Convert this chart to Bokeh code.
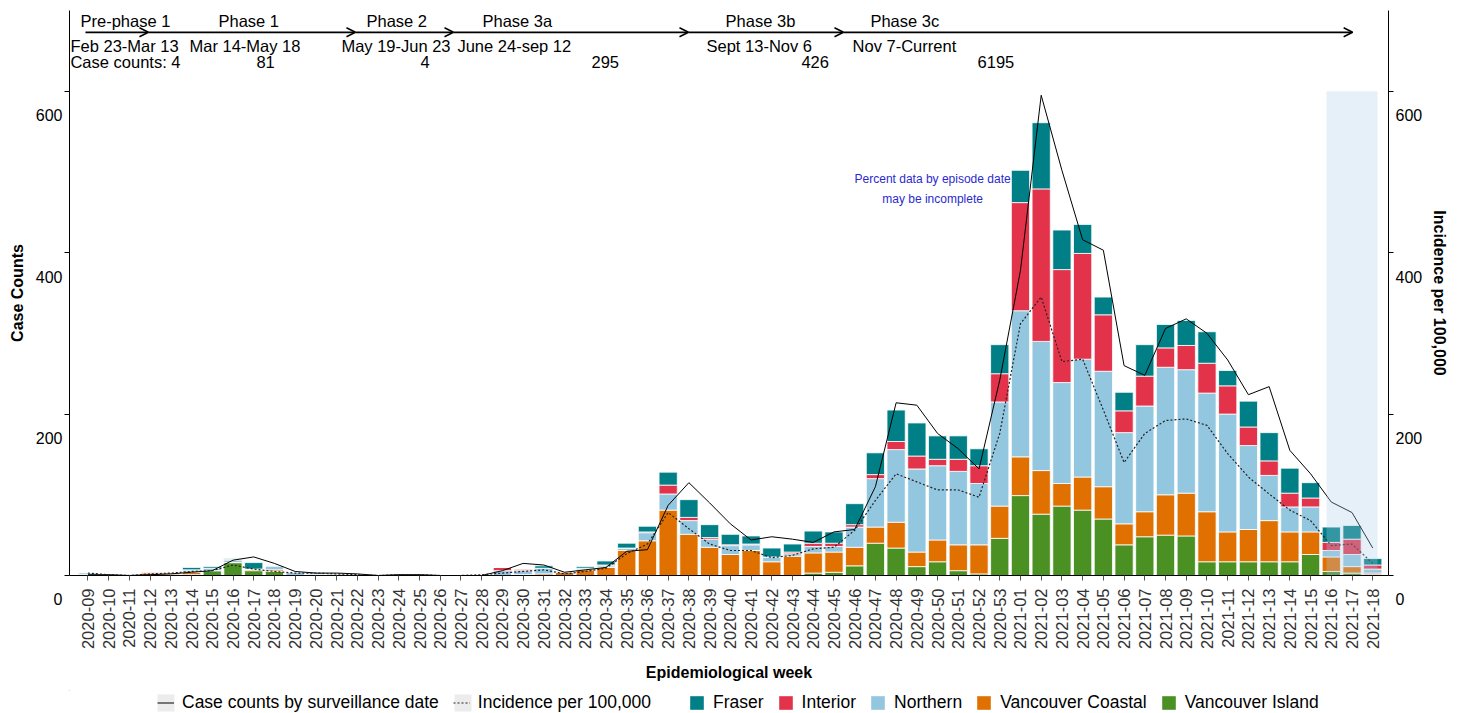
from math import pi
from bokeh.plotting import figure
from bokeh.layouts import column
from bokeh.models import (Range1d, LinearAxis, FixedTicker, Legend, LegendItem,
                          ColumnDataSource, Arrow, OpenHead)
from bokeh.core.properties import value
from bokeh.embed import file_html
from bokeh.resources import INLINE

weeks = ["2020-09", "2020-10", "2020-11", "2020-12", "2020-13", "2020-14", "2020-15", "2020-16",
         "2020-17", "2020-18", "2020-19", "2020-20", "2020-21", "2020-22", "2020-23", "2020-24",
         "2020-25", "2020-26", "2020-27", "2020-28", "2020-29", "2020-30", "2020-31", "2020-32",
         "2020-33", "2020-34", "2020-35", "2020-36", "2020-37", "2020-38", "2020-39", "2020-40",
         "2020-41", "2020-42", "2020-43", "2020-44", "2020-45", "2020-46", "2020-47", "2020-48",
         "2020-49", "2020-50", "2020-51", "2020-52", "2020-53", "2021-01", "2021-02", "2021-03",
         "2021-04", "2021-05", "2021-06", "2021-07", "2021-08", "2021-09", "2021-10", "2021-11",
         "2021-12", "2021-13", "2021-14", "2021-15", "2021-16", "2021-17", "2021-18"]

vancouver_island = [0, 0, 0, 0, 1, 1, 6, 16, 6, 5,
                    0, 0, 0, 0, 0, 0, 0, 0, 0, 0,
                    0, 0, 0, 0, 0, 0, 0, 0, 0, 0,
                    0, 0, 0, 0, 0, 3, 4, 12, 40, 34,
                    11, 17, 6, 2, 46, 99, 76, 86, 81, 70,
                    38, 48, 50, 49, 17, 17, 17, 17, 17, 26,
                    5, 3, 1]
vancouver_coastal = [0, 0, 0, 3, 2, 3, 0, 0, 2, 2,
                     0, 0, 1, 0, 0, 0, 0, 0, 0, 0,
                     0, 1, 2, 4, 7, 10, 31, 43, 81, 51,
                     35, 26, 31, 17, 24, 25, 25, 23, 20, 32,
                     18, 27, 32, 36, 40, 48, 54, 28, 41, 40,
                     26, 31, 50, 53, 62, 37, 40, 51, 37, 28,
                     18, 8, 2]
northern = [2, 0, 0, 1, 1, 3, 3, 3, 0, 5,
            4, 2, 2, 2, 0, 0, 0, 0, 0, 0,
            6, 5, 7, 0, 2, 2, 3, 10, 20, 17,
            10, 11, 7, 6, 3, 8, 7, 25, 60, 90,
            103, 92, 91, 76, 129, 181, 160, 125, 146, 143,
            113, 131, 158, 153, 147, 146, 104, 56, 31, 31,
            8, 15, 5]
interior = [0, 0, 0, 1, 0, 0, 0, 1, 0, 0,
            0, 0, 0, 0, 0, 0, 0, 0, 0, 0,
            4, 2, 0, 0, 0, 1, 0, 1, 11, 4,
            2, 1, 1, 0, 2, 4, 4, 3, 5, 10,
            16, 8, 15, 22, 35, 134, 189, 140, 131, 70,
            27, 37, 24, 30, 37, 35, 23, 18, 17, 11,
            10, 19, 5]
fraser = [1, 1, 0, 0, 0, 3, 2, 1, 8, 0,
          0, 1, 0, 0, 0, 1, 1, 0, 0, 0,
          0, 0, 3, 1, 2, 5, 6, 7, 16, 22,
          16, 13, 10, 11, 10, 15, 14, 26, 27, 39,
          41, 29, 29, 21, 36, 40, 82, 49, 36, 22,
          23, 39, 29, 31, 39, 19, 32, 35, 31, 19,
          19, 17, 8]
cases_surveillance = [1, 1, 0, 1, 2, 4, 6, 19, 23, 15,
                      5, 3, 3, 2, 0, 1, 1, 0, 0, 0,
                      6, 15, 13, 4, 7, 10, 30, 32, 87, 115,
                      90, 64, 44, 48, 45, 41, 54, 57, 110, 214,
                      211, 176, 157, 132, 242, 378, 595, 502, 416, 403,
                      260, 248, 306, 318, 300, 267, 224, 234, 155, 126,
                      91, 78, 34]
incidence = [3, 1, 0, 2, 3, 5, 6, 13, 8, 5,
             3, 3, 2, 1, 0, 1, 1, 0, 0, 1,
             3, 5, 7, 2, 5, 9, 27, 39, 78, 58,
             39, 31, 31, 22, 25, 33, 35, 56, 93, 126,
             116, 106, 106, 97, 176, 312, 345, 265, 268, 205,
             140, 176, 192, 194, 186, 151, 122, 101, 81, 68,
             37, 39, 15]

regions = ["Vancouver Island", "Vancouver Coastal", "Northern", "Interior", "Fraser"]
region_colors = ["#4a9023", "#e07000", "#93c6df", "#e3334b", "#007f86"]

y_ticks = [0, 200, 400, 600]

phase_names = ["Pre-phase 1", "Phase 1", "Phase 2", "Phase 3a", "Phase 3b", "Phase 3c"]
phase_dates = ["Feb 23-Mar 13", "Mar 14-May 18", "May 19-Jun 23", "June 24-sep 12",
               "Sept 13-Nov 6", "Nov 7-Current"]
phase_counts = ["Case counts: 4", "81", "4", "295", "426", "6195"]

FONT = "Liberation Sans"
n = len(weeks)
xs = list(range(n))

src = ColumnDataSource(dict(x=xs, cases=cases_surveillance, inc=incidence,
                            **{r: v for r, v in zip(regions, [vancouver_island, vancouver_coastal,
                                                              northern, interior, fraser])}))

p = figure(width=1461, height=690, output_backend="svg", toolbar_location=None,
           x_range=Range1d(-0.89, 62.76), y_range=Range1d(0, 700),
           min_border_left=69, min_border_right=73, min_border_top=10, min_border_bottom=115)
p.outline_line_color = None
p.xgrid.visible = False
p.ygrid.visible = False

bars = p.vbar_stack(regions, x="x", width=0.88, color=region_colors, source=src,
                    line_color="white", line_width=1, line_alpha=0.8)
l1 = p.line("x", "cases", source=src, line_color="black", line_width=1)
l2 = p.line("x", "inc", source=src, line_color="#222222", line_width=1.2, line_dash="2 2")

# shaded band: data for the latest weeks may be incomplete
p.quad(left=[59.77], right=[62.23], bottom=[0], top=[600], fill_color="#accde8",
       fill_alpha=0.3, line_color=None)

# x axis
xa = p.xaxis[0]
xa.ticker = FixedTicker(ticks=xs)
xa.major_label_overrides = {i: w for i, w in enumerate(weeks)}
xa.major_label_orientation = pi / 2
xa.major_label_text_font = FONT
xa.major_label_text_font_size = "16.5px"
xa.major_label_text_color = "#333333"
xa.major_label_standoff = 8
xa.major_tick_out = 5
xa.major_tick_in = 0
xa.minor_tick_line_color = None
xa.axis_line_color = "black"
xa.major_tick_line_color = "#555555"
xa.axis_label = "Epidemiological week"
xa.axis_label_text_font = FONT
xa.axis_label_text_font_size = "16px"
xa.axis_label_text_font_style = "bold"
xa.axis_label_text_color = "black"
xa.axis_label_standoff = 12

# y axes: labels sit lower than their ticks in the original; emulate with a blank first line
ry = LinearAxis()
p.add_layout(ry, "right")
for ax, title, stand in [(p.yaxis[0], "Case Counts", 7), (ry, "Incidence per 100,000", 6)]:
    ax.ticker = FixedTicker(ticks=y_ticks)
    ax.major_label_overrides = {t: "\n" + str(t) for t in y_ticks}
    ax.major_label_text_line_height = 2.875
    ax.major_label_text_font = FONT
    ax.major_label_text_font_size = "16px"
    ax.major_label_text_color = "black"
    ax.major_label_standoff = 2
    ax.major_tick_out = 5
    ax.major_tick_in = 0
    ax.minor_tick_line_color = None
    ax.axis_line_color = "black"
    ax.axis_label = title
    ax.axis_label_text_font = FONT
    ax.axis_label_text_font_size = "16px"
    ax.axis_label_text_font_style = "bold"
    ax.axis_label_text_color = "black"
    ax.axis_label_standoff = stand

# phase timeline
arrow_pts = [-0.12, 2.92, 12.91, 17.64, 28.98, 36.46, 61.03]
for a, b in zip(arrow_pts[:-1], arrow_pts[1:]):
    p.add_layout(Arrow(end=OpenHead(size=9, line_width=1.5, line_color="black"),
                       x_start=a, y_start=673, x_end=b, y_end=673,
                       line_width=1.8, line_color="black"))

name_x = [-0.36, 6.30, 13.44, 19.04, 30.77, 37.76]
date_x = [-0.845, 4.90, 12.23, 17.83, 29.85, 36.9]
count_x = [-0.845, 8.13, 16.05, 24.3, 34.43, 42.93]
for xv, yv, txt in [(name_x, 686.7, phase_names), (date_x, 655.8, phase_dates),
                    (count_x, 636.0, phase_counts)]:
    p.text(x=xv, y=[yv] * 6, text=txt, text_font=value(FONT), text_font_size=value("16.5px"),
           text_align="left", text_baseline="middle", text_color="black")

p.text(x=[40.76, 40.76], y=[490.9, 466.0],
       text=["Percent data by episode date", "may be incomplete"], text_font=value(FONT),
       text_font_size=value("12px"), text_align="center", text_baseline="middle", text_color="#2a2ad0")

# legend strip below the chart (a second figure whose frame holds the legends);
# its frame is aligned with the main frame, so its x range is set in page pixels
lf = figure(width=1461, height=23, output_backend="svg", toolbar_location=None,
            x_range=Range1d(69, 1388), y_range=Range1d(713, 690),
            min_border_left=0, min_border_right=0, min_border_top=0, min_border_bottom=0)
lf.axis.visible = False
lf.grid.visible = False
lf.outline_line_color = None
lf.background_fill_color = "white"
# grey key backgrounds behind the two line keys
lf.quad(left=[157, 454], right=[174, 471], top=[694, 694], bottom=[711, 711],
        fill_color="#ececec", line_color=None)
# legend key renderers (their points fall outside the visible range)
k1 = lf.line(x=[-50, -40], y=[-50, -50], line_color="black", line_width=1)
k2 = lf.line(x=[-50, -40], y=[-50, -50], line_color="#222222", line_width=1.2, line_dash="2 2")
kb = [lf.vbar(x=[-50], top=[-50], bottom=[-49], width=1, fill_color=c, line_color=None)
      for c in region_colors]

leg1 = Legend(items=[LegendItem(label="Case counts by surveillance date", renderers=[k1]),
                     LegendItem(label="Incidence per 100,000", renderers=[k2])],
              location=(88, 0), orientation="horizontal", spacing=14)
leg2 = Legend(items=[LegendItem(label=r, renderers=[kb[i]]) for i, r in
                     [(4, "Fraser"), (3, "Interior"), (2, "Northern"), (1, "Vancouver Coastal"),
                      (0, "Vancouver Island")]],
              location=(619, 0), orientation="horizontal", spacing=13)
for lg in (leg1, leg2):
    lg.label_text_font = FONT
    lg.label_text_font_size = "17.5px"
    lg.label_text_color = "black"
    lg.glyph_width = 17
    lg.glyph_height = 17
    lg.label_standoff = 8
    lg.padding = 0
    lg.margin = 0
    lg.border_line_color = None
    lg.background_fill_alpha = 0
    lg.label_height = 17
    lf.add_layout(lg, "center")

layout = column(p, lf, spacing=0)
open("out.html", "w").write(file_html(layout, INLINE))
